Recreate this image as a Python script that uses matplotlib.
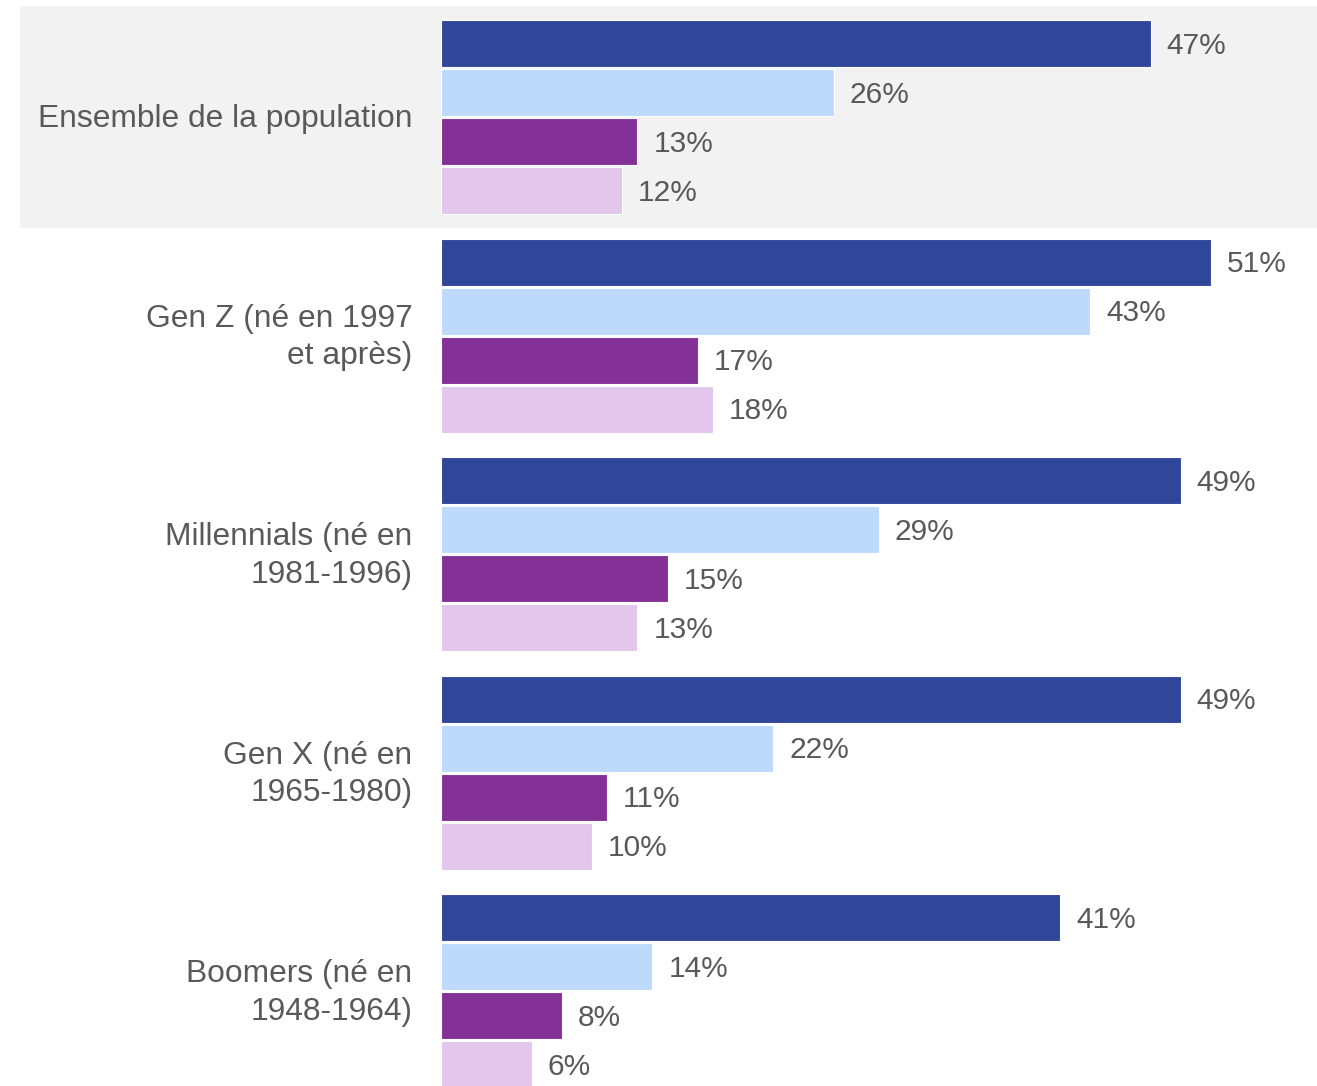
import matplotlib
matplotlib.use("Agg")
import matplotlib.pyplot as plt

plt.rcParams['font.family'] = ['Liberation Sans', 'DejaVu Sans']

categories = ["Ensemble de la population",
              "Gen Z (né en 1997\net après)",
              "Millennials (né en\n1981-1996)",
              "Gen X (né en\n1965-1980)",
              "Boomers (né en\n1948-1964)"]
series1 = [47, 51, 49, 49, 41]
series2 = [26, 43, 29, 22, 14]
series3 = [13, 17, 15, 11, 8]
series4 = [12, 18, 13, 10, 6]
colors = ["#2F4699", "#BDDAFC", "#833197", "#E2C6EC"]
text_color = "#595959"

W, H = 1317, 1086
fig = plt.figure(figsize=(W / 100, H / 100), dpi=100)
ax = fig.add_axes([0, 0, 1, 1])

scale = 15.1          # px per percent
x0 = 441              # px where bars start
ax.set_xlim(-x0 / scale, (W - x0) / scale)
ax.set_ylim(H, 0)
ax.axis("off")

slot = 49.0
gpitch = 218.5
first = 43.5
bar_h = 47

# grey band behind the first group
gc0 = first + 1.5 * slot
ax.axhspan(gc0 - 111, gc0 + 111, xmin=20 / W, xmax=1, color="#F2F2F2", zorder=0, lw=0)

all_series = [series1, series2, series3, series4]
for g, cat in enumerate(categories):
    for b, ser in enumerate(all_series):
        y = first + g * gpitch + b * slot
        v = ser[g]
        ax.barh(y, v, height=bar_h, left=0, color=colors[b], edgecolor="white",
                linewidth=0.8, zorder=2)
        ax.annotate(f"{v}%", xy=(v, y), xytext=(11.5, -1.5), textcoords="offset points",
                    ha="left", va="center", fontsize=21.5, color=text_color, zorder=3)
    gc = first + g * gpitch + 1.5 * slot
    ax.annotate(cat, xy=(0, gc), xytext=(-20.5, -1.5), textcoords="offset points",
                ha="right", va="center", fontsize=22.9, color=text_color,
                multialignment="right", linespacing=1.32, zorder=3)

fig.savefig("out.png", dpi=100, facecolor="white")
